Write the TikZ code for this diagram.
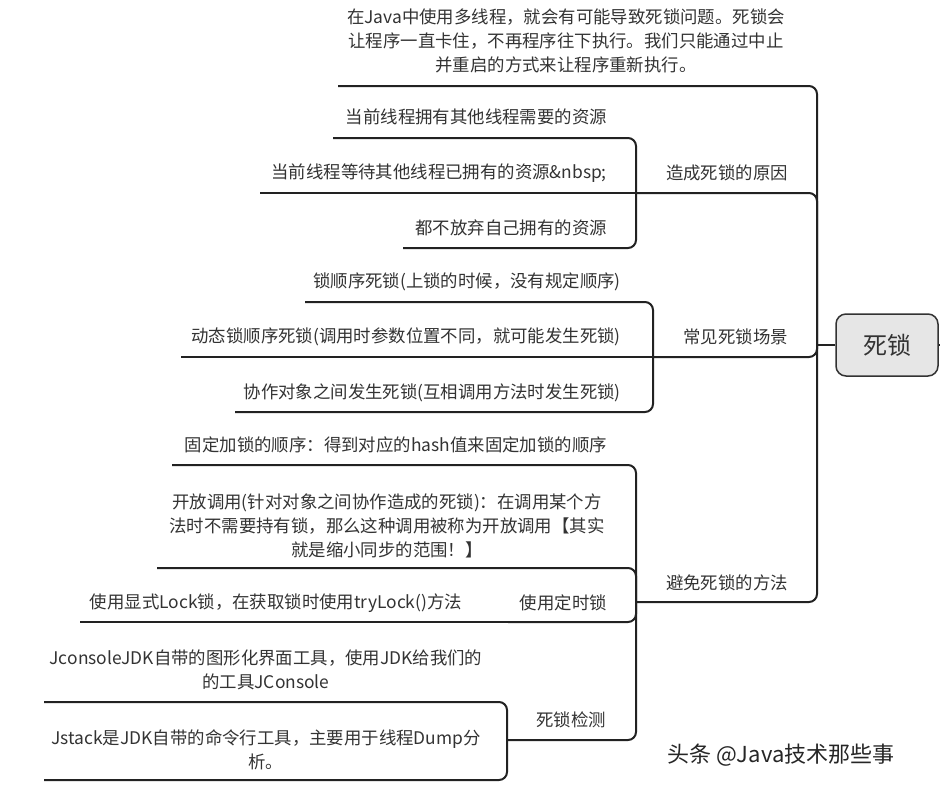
\documentclass[tikz,border=0pt]{standalone}
\usepackage{fontspec}
\setmainfont{Noto Sans CJK SC}
\definecolor{txt}{HTML}{333333}
\definecolor{ln}{HTML}{222222}
\definecolor{rootfill}{HTML}{E6E6E6}
\begin{document}
\begin{tikzpicture}[x=1pt,y=-1pt,
  lbl/.style={inner sep=0pt, font=\fontsize{17.4}{24}\selectfont, text=txt},
  ul/.style={line width=2pt, draw=ln, rounded corners=8pt},
  rootbox/.style={draw=txt, fill=rootfill, line width=1.5pt, rounded corners=10pt,
    minimum width=102pt, minimum height=62pt, inner sep=0pt,
    font=\fontsize{24}{28}\selectfont, text=txt},
  wmark/.style={inner sep=0pt, font=\fontsize{22}{24}\selectfont, text=black!85}]
\useasboundingbox (0,0) rectangle (940,788);
\fill[white] (0,0) rectangle (940,788);

% root
\node[rootbox] (root) at (887,345) {死锁};
\coordinate (j0) at (817,345);
\coordinate (rstub) at (940,345);
\draw[ul] (root.west) -- (j0);
\draw[ul] (root.east) -- (rstub);

% top text
\node[lbl, align=center] (t0) at (566,41) {在Java中使用多线程，就会有可能导致死锁问题。死锁会\\让程序一直卡住，不再程序往下执行。我们只能通过中止\\并重启的方式来让程序重新执行。};
\coordinate (t0L) at (338,86);
\draw[ul] (j0) |- (t0L);

% branch 1
\node[lbl, anchor=east] (b1) at (788,173) {造成死锁的原因};
\coordinate (b1L) at (636,193);
\draw[ul] (j0) |- (b1L);
\node[lbl, anchor=east] (c11) at (607,117) {当前线程拥有其他线程需要的资源};
\coordinate (c11L) at (333,138);
\node[lbl, anchor=east] (c12) at (607,173) {当前线程等待其他线程已拥有的资源\&nbsp;};
\coordinate (c12L) at (260,193);
\node[lbl, anchor=east] (c13) at (607,228) {都不放弃自己拥有的资源};
\coordinate (c13L) at (403,248);
\draw[ul] (b1L) |- (c11L);
\draw[ul] (b1L) -- (c12L);
\draw[ul] (b1L) |- (c13L);

% branch 2
\node[lbl, anchor=east] (b2) at (788,337) {常见死锁场景};
\coordinate (b2L) at (653,357);
\draw[ul] (j0) |- (b2L);
\node[lbl, anchor=east] (c21) at (621,282) {锁顺序死锁(上锁的时候，没有规定顺序)};
\coordinate (c21L) at (305,302);
\node[lbl, anchor=east] (c22) at (621,337) {动态锁顺序死锁(调用时参数位置不同，就可能发生死锁)};
\coordinate (c22L) at (181,357);
\node[lbl, anchor=east] (c23) at (621,393) {协作对象之间发生死锁(互相调用方法时发生死锁)};
\coordinate (c23L) at (235,412);
\draw[ul] (b2L) |- (c21L);
\draw[ul] (b2L) -- (c22L);
\draw[ul] (b2L) |- (c23L);

% branch 3
\node[lbl, anchor=east] (b3) at (788,583) {避免死锁的方法};
\coordinate (b3L) at (636,602);
\draw[ul] (j0) |- (b3L);
\node[lbl, anchor=east] (c31) at (607,445) {固定加锁的顺序：得到对应的hash值来固定加锁的顺序};
\coordinate (c31L) at (172,465);
\node[lbl, align=center] (c32) at (387,526) {开放调用(针对对象之间协作造成的死锁)：在调用某个方\\法时不需要持有锁，那么这种调用被称为开放调用【其实\\就是缩小同步的范围！】};
\coordinate (c32L) at (157,568);
\node[lbl, anchor=east] (c33) at (607,603) {使用定时锁};
\coordinate (c33L) at (508,622);
\node[lbl] (c331) at (276,603) {使用显式Lock锁，在获取锁时使用tryLock()方法};
\coordinate (c331L) at (80,622);
\node[lbl, anchor=east] (c34) at (606,720) {死锁检测};
\coordinate (c34L) at (507,740);
\node[lbl, align=center] (c341) at (266,670) {JconsoleJDK自带的图形化界面工具，使用JDK给我们的\\的工具JConsole};
\coordinate (c341L) at (44,702);
\node[lbl, align=center] (c342) at (266,750) {Jstack是JDK自带的命令行工具，主要用于线程Dump分\\析。};
\coordinate (c342L) at (44,780);
\draw[ul] (b3L) |- (c31L);
\draw[ul] (b3L) |- (c32L);
\draw[ul] (b3L) |- (c33L);
\draw[ul] (c33L) -- (c331L);
\draw[ul] (b3L) |- (c34L);
\draw[ul] (c34L) |- (c341L);
\draw[ul] (c34L) |- (c342L);

% watermark
\node[wmark, anchor=west] (wm) at (667,755) {头条 @Java技术那些事};
\end{tikzpicture}
\end{document}
